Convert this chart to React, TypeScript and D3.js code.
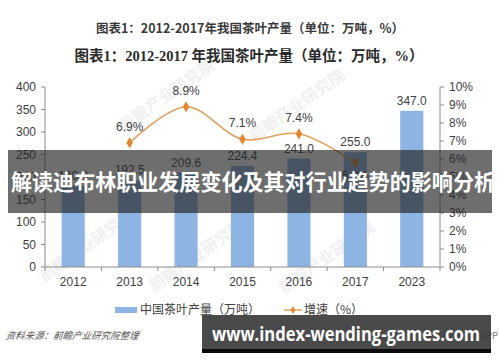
import React from "react";
import * as d3 from "d3";

const years = ["2012", "2013", "2014", "2015", "2016", "2017", "2023"];
const output = [180.0, 192.5, 209.6, 224.4, 241.0, 255.0, 347.0];
const growth: (number | null)[] = [null, 6.9, 8.9, 7.1, 7.4, 5.8, null];
// label above (-1) or below (1) the point
const growthLabelSide = [0, -1, -1, -1, -1, 1, 0];

const title1 = "图表1：2012-2017年我国茶叶产量（单位：万吨，%）";
const title2 = "图表1：2012-2017 年我国茶叶产量（单位：万吨，%）";
const legendBar = "中国茶叶产量（万吨）";
const legendLine = "增速（%）";
const source = "资料来源：前瞻产业研究院整理";
const bannerText = "解读迪布林职业发展变化及其对行业趋势的影响分析";
const urlText = "www.index-wending-games.com";
const watermark = "前瞻产业研究院";

const W = 500, H = 362;
const plot = { left: 45, right: 440, top: 87, bottom: 267 };

const sans = "'Liberation Sans', 'Noto Sans CJK SC', sans-serif";
const cjk = "'Noto Sans CJK SC', sans-serif";
const serif = "'Liberation Serif', 'Noto Sans CJK SC', serif";
const axisColor = "#8c8c8c";
const barColor = "#8db4e2";
const lineColor = "#e0a05c";
const dotColor = "#e5852c";

export default function App() {
  const x = d3.scaleBand<string>().domain(years).range([plot.left, plot.right]).paddingInner(0.59).paddingOuter(0.295);
  const yL = d3.scaleLinear().domain([0, 400]).range([plot.bottom, plot.top]);
  const yR = d3.scaleLinear().domain([0, 10]).range([plot.bottom, plot.top]);
  const cx = (d: string) => (x(d) as number) + x.bandwidth() / 2;
  const gap = (x.step() - x.bandwidth()) / 2;

  const pts = years.map((yr, i) => ({ yr, v: growth[i], side: growthLabelSide[i] })).filter((p) => p.v != null) as { yr: string; v: number; side: number }[];
  const line = d3.line<{ yr: string; v: number }>().x((d) => cx(d.yr)).y((d) => yR(d.v)).curve(d3.curveCatmullRom);

  const boundaries = years.map((d) => (x(d) as number) - gap).concat([plot.right]);
  const diamond = d3.symbol().type(d3.symbolDiamond).size(36)();

  // faint watermark positions
  const marks = [
    [170, 100], [300, 110], [200, 260], [330, 262], [90, 250],
  ];

  return (
    <svg width={W} height={H} style={{ position: "fixed", left: 0, top: 0, background: "#fff" }}>
      <rect width={W} height={H} fill="#fff" />
      {marks.map(([mx, my], i) => (
        <text key={i} x={mx} y={my} transform={`rotate(-35 ${mx} ${my})`} fontFamily={cjk} fontSize={16} fontWeight="bold" fill="#f0f0f0" textAnchor="middle">{watermark}</text>
      ))}

      <text x={250} y={33} textAnchor="middle" fontFamily={cjk} fontWeight="bold" fontSize={12.5} fill="#3a3a3a">{title1}</text>
      <text x={249} y={61} textAnchor="middle" fontFamily={serif} fontWeight="bold" fontSize={14.5} fill="#2a2a2a">{title2}</text>

      {/* bars */}
      {years.map((d, i) => (
        <rect key={d} x={x(d)} y={yL(output[i])} width={x.bandwidth()} height={plot.bottom - yL(output[i])} fill={barColor} />
      ))}
      {years.map((d, i) => (
        <text key={d} x={cx(d)} y={yL(output[i]) - 6} textAnchor="middle" fontFamily={sans} fontSize={12} fill="#404040">{output[i].toFixed(1)}</text>
      ))}

      {/* axes */}
      <line x1={plot.left} x2={plot.left} y1={plot.top} y2={plot.bottom} stroke={axisColor} />
      <line x1={plot.right} x2={plot.right} y1={plot.top} y2={plot.bottom} stroke={axisColor} />
      <line x1={plot.left} x2={plot.right} y1={plot.bottom} y2={plot.bottom} stroke={axisColor} />
      {yL.ticks(8).map((t) => (
        <g key={t}>
          <line x1={plot.left - 4} x2={plot.left} y1={yL(t)} y2={yL(t)} stroke={axisColor} />
          <text x={plot.left - 9} y={yL(t)} dy="0.35em" textAnchor="end" fontFamily={sans} fontSize={12} fill="#404040">{t}</text>
        </g>
      ))}
      {yR.ticks(10).map((t) => (
        <g key={t}>
          <line x1={plot.right} x2={plot.right + 4} y1={yR(t)} y2={yR(t)} stroke={axisColor} />
          <text x={plot.right + 9} y={yR(t)} dy="0.35em" fontFamily={sans} fontSize={12} fill="#404040">{t}%</text>
        </g>
      ))}
      {boundaries.map((b, i) => (
        <line key={i} x1={b} x2={b} y1={plot.bottom} y2={plot.bottom + 4} stroke={axisColor} />
      ))}
      {years.map((d) => (
        <text key={d} x={cx(d)} y={286} textAnchor="middle" fontFamily={sans} fontSize={12} fill="#404040">{d}</text>
      ))}

      {/* growth line */}
      <path d={line(pts) as string} fill="none" stroke={lineColor} strokeWidth={1.6} />
      {pts.map((p) => (
        <path key={p.yr} d={diamond as string} transform={`translate(${cx(p.yr)},${yR(p.v)})`} fill={dotColor} />
      ))}
      {pts.map((p) => (
        <text key={p.yr} x={cx(p.yr)} y={yR(p.v) + (p.side < 0 ? -12 : 17)} textAnchor="middle" fontFamily={sans} fontSize={12} fill="#404040">{p.v.toFixed(1)}%</text>
      ))}

      {/* legend */}
      <rect x={115} y={307} width={22} height={6} fill={barColor} />
      <text x={140} y={310} dy="0.35em" fontFamily={cjk} fontSize={12} fill="#404040">{legendBar}</text>
      <line x1={284} x2={302} y1={310} y2={310} stroke={lineColor} strokeWidth={1.5} />
      <path d={d3.symbol().type(d3.symbolDiamond).size(18)() as string} transform="translate(293,310)" fill={dotColor} />
      <text x={304} y={310} dy="0.35em" fontFamily={cjk} fontSize={12} fill="#404040">{legendLine}</text>

      <text x={6} y={339} fontFamily={cjk} fontSize={9.5} fontStyle="italic" fill="#555" transform="skewX(-8) translate(47,0)">{source}</text>
      <text x={498} y={339} textAnchor="end" fontFamily={cjk} fontSize={9.5} fill="#777">前瞻经济学人APP</text>

      {/* overlays */}
      <rect x={8} y={150} width={484} height={63} fill="rgba(35,35,35,0.66)" />
      <text x={253} y={182} dy="0.35em" textAnchor="middle" fontFamily={cjk} fontWeight="bold" fontSize={22} fill="#fff" textLength={484} lengthAdjust="spacingAndGlyphs">{bannerText}</text>

      <rect x={202} y={315} width={289} height={38} fill="rgba(60,60,60,0.93)" />
      <rect x={202} y={349} width={289} height={4} fill="#0a0a0a" />
      <text x={346} y={334} dy="0.35em" textAnchor="middle" fontFamily="'Open Sans', 'DejaVu Sans', sans-serif" fontWeight="bold" fontSize={20} fill="#fff" textLength={268} lengthAdjust="spacingAndGlyphs">{urlText}</text>
    </svg>
  );
}
